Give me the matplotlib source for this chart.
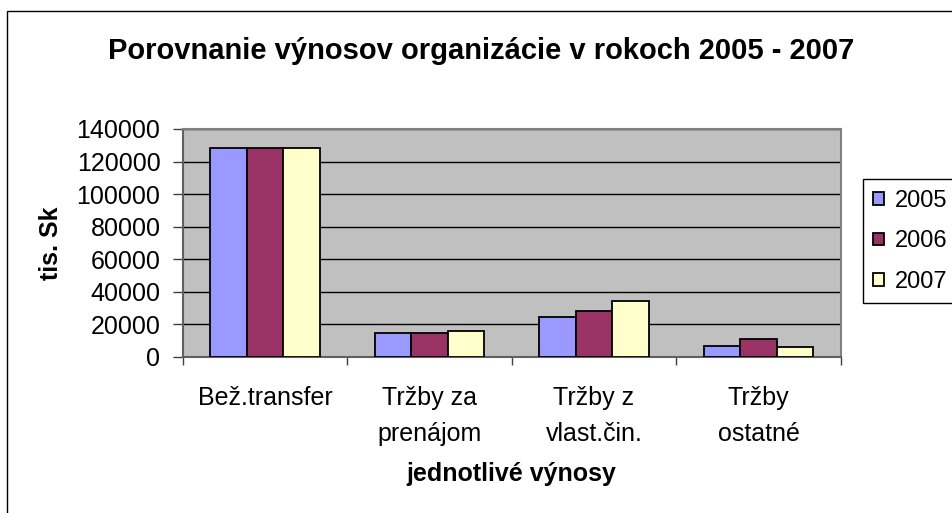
import numpy as np
import matplotlib
matplotlib.use("Agg")
import matplotlib.pyplot as plt
from matplotlib.patches import Rectangle

plt.rcParams["font.family"] = ["Liberation Sans", "DejaVu Sans"]

categories = ["Bež.transfer", "Tržby za\nprenájom", "Tržby z\nvlast.čin.", "Tržby\nostatné"]
years = ["2005", "2006", "2007"]
v2005 = [128400, 14500, 24400, 7000]
v2006 = [128400, 14500, 28000, 11000]
v2007 = [128400, 16000, 34200, 6000]
colors = ["#9999FF", "#993366", "#FFFFCC"]
yticks = [0, 20000, 40000, 60000, 80000, 100000, 120000, 140000]

W, H = 953, 513
fig = plt.figure(figsize=(W / 100, H / 100), dpi=100)
ax = fig.add_axes([182.7 / W, 1 - 357 / H, 658 / W, 228 / H])
ax.set_facecolor("#C0C0C0")

x = np.arange(len(categories))
bw = 1 / 4.5
for i, (vals, yr) in enumerate(zip([v2005, v2006, v2007], years)):
    ax.bar(x + (i - 1) * bw, vals, width=bw, color=colors[i],
           edgecolor="black", linewidth=1.3, label=yr, zorder=3)

ax.set_xlim(-0.5, len(categories) - 0.5)
ax.set_ylim(0, 140000)
ax.set_yticks(yticks)
ax.set_yticklabels([str(t) for t in yticks])
ax.yaxis.grid(True, color="black", linewidth=1, zorder=1)
ax.set_axisbelow(True)

ax.set_xticks(x)
ax.set_xticklabels(categories, linespacing=1.6)
ax.set_xticks(np.arange(len(categories) + 1) - 0.5, minor=True)
ax.tick_params(axis="x", which="major", length=0, pad=21, labelsize=18)
ax.tick_params(axis="x", which="minor", length=6, width=1, color="#404040")
ax.tick_params(axis="y", length=7, width=1, pad=9, labelsize=18, color="#404040")

for side in ["top", "right"]:
    ax.spines[side].set_color("#808080")
    ax.spines[side].set_linewidth(1.5)
for side in ["left", "bottom"]:
    ax.spines[side].set_color("#606060")
    ax.spines[side].set_linewidth(1.5)

ax.set_ylabel("tis. Sk", fontsize=18, fontweight="bold", va="center")
ax.yaxis.set_label_coords((51 - 182.7) / 658, 0.5)
ax.set_xlabel("jednotlivé výnosy", fontsize=18, fontweight="bold", va="center")
ax.xaxis.set_label_coords(0.5, -(474 - 357) / 228)

fig.text(481 / W, 1 - 51 / H, "Porovnanie výnosov organizácie v rokoch 2005 - 2007",
         ha="center", va="center", fontsize=21, fontweight="bold")

leg = ax.legend(loc="upper left", bbox_to_anchor=(862.7 / W, 1 - 179.3 / H),
                bbox_transform=fig.transFigure, fontsize=17, frameon=True,
                fancybox=False, edgecolor="black", framealpha=1,
                handlelength=0.45, handleheight=0.45, handletextpad=0.45,
                labelspacing=0.78, borderpad=0.45, borderaxespad=0)
leg.get_frame().set_linewidth(1)

fig.patches.append(Rectangle((7 / W, -0.1), 1.2, 1 - 11 / H + 0.1,
                             transform=fig.transFigure, fill=False,
                             edgecolor="black", linewidth=1))

fig.savefig("out.png", dpi=100)
